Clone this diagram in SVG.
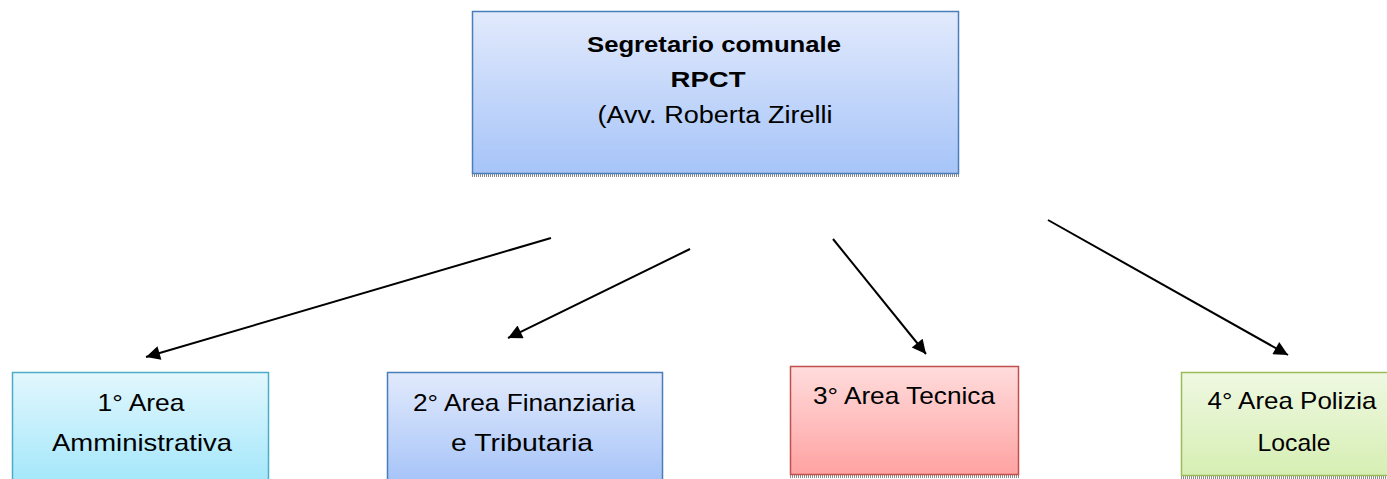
<svg xmlns="http://www.w3.org/2000/svg" width="1387" height="479" viewBox="0 0 1387 479">
<style>
.t{font-family:"Liberation Sans",Arial,sans-serif;fill:#000;text-anchor:middle}
.b{font-weight:bold;font-size:22px}
.n{font-size:23px}
.s{font-size:24px}
.conn line{stroke:#000;stroke-width:2;fill:none}
.shadow{stroke:#8a8a8a;stroke-width:3;stroke-dasharray:1 1}
</style>
<defs>
<linearGradient id="gBlue" x1="0" y1="0" x2="0" y2="1"><stop offset="0" stop-color="#e2eafc"/><stop offset="1" stop-color="#a6c4f8"/></linearGradient>
<linearGradient id="gCyan" x1="0" y1="0" x2="0" y2="1"><stop offset="0" stop-color="#e2f7fd"/><stop offset="1" stop-color="#a4e7fb"/></linearGradient>
<linearGradient id="gRed" x1="0" y1="0" x2="0" y2="1"><stop offset="0" stop-color="#ffdcdc"/><stop offset="1" stop-color="#ffa2a2"/></linearGradient>
<linearGradient id="gGreen" x1="0" y1="0" x2="0" y2="1"><stop offset="0" stop-color="#eff8e2"/><stop offset="1" stop-color="#d6efb3"/></linearGradient>
<marker id="arr" viewBox="0 0 10 10" refX="10" refY="5" markerWidth="8" markerHeight="7" markerUnits="strokeWidth" orient="auto"><path d="M0,0 L10,5 L0,10 z" fill="#000"/></marker>
</defs>
<g id="node-top">
<line class="shadow" x1="472" y1="175.5" x2="959" y2="175.5"/>
<rect x="472.5" y="11.5" width="486" height="162" fill="url(#gBlue)" stroke="#4a7ebb" stroke-width="1.5"/>
<text class="t b" x="714" y="52" textLength="254" lengthAdjust="spacingAndGlyphs">Segretario comunale</text>
<text class="t b" x="708" y="87" textLength="75" lengthAdjust="spacingAndGlyphs">RPCT</text>
<text class="t n" x="715" y="123" textLength="235" lengthAdjust="spacingAndGlyphs">(Avv. Roberta Zirelli</text>
</g>
<g id="node-1">
<rect x="12.5" y="372.5" width="256" height="110" fill="url(#gCyan)" stroke="#4bacc6" stroke-width="1.5"/>
<text class="t s" x="141" y="411" textLength="87" lengthAdjust="spacingAndGlyphs">1° Area</text>
<text class="t s" x="142" y="451" textLength="180" lengthAdjust="spacingAndGlyphs">Amministrativa</text>
</g>
<g id="node-2">
<rect x="387.5" y="372.5" width="275" height="110" fill="url(#gBlue)" stroke="#4a7ebb" stroke-width="1.5"/>
<text class="t s" x="524" y="411" textLength="222" lengthAdjust="spacingAndGlyphs">2° Area Finanziaria</text>
<text class="t s" x="522" y="451" textLength="142" lengthAdjust="spacingAndGlyphs">e Tributaria</text>
</g>
<g id="node-3">
<line class="shadow" x1="790" y1="476.5" x2="1019" y2="476.5"/>
<rect x="790.5" y="366.5" width="228" height="108" fill="url(#gRed)" stroke="#c0504d" stroke-width="1.5"/>
<text class="t s" x="904" y="404" textLength="182" lengthAdjust="spacingAndGlyphs">3° Area Tecnica</text>
</g>
<g id="node-4">
<line class="shadow" x1="1181" y1="477.5" x2="1387" y2="477.5"/>
<rect x="1181.5" y="372.5" width="222" height="103" fill="url(#gGreen)" stroke="#9bbb59" stroke-width="1.5"/>
<text class="t s" x="1292" y="409" textLength="169" lengthAdjust="spacingAndGlyphs">4° Area Polizia</text>
<text class="t s" x="1294" y="451" textLength="73" lengthAdjust="spacingAndGlyphs">Locale</text>
</g>
<g id="connectors" class="conn">
<line x1="551" y1="238" x2="146" y2="357" marker-end="url(#arr)"/>
<line x1="690" y1="249" x2="508" y2="338" marker-end="url(#arr)"/>
<line x1="833" y1="239" x2="926" y2="354" marker-end="url(#arr)"/>
<line x1="1048" y1="220" x2="1288" y2="355" marker-end="url(#arr)"/>
</g>
</svg>
